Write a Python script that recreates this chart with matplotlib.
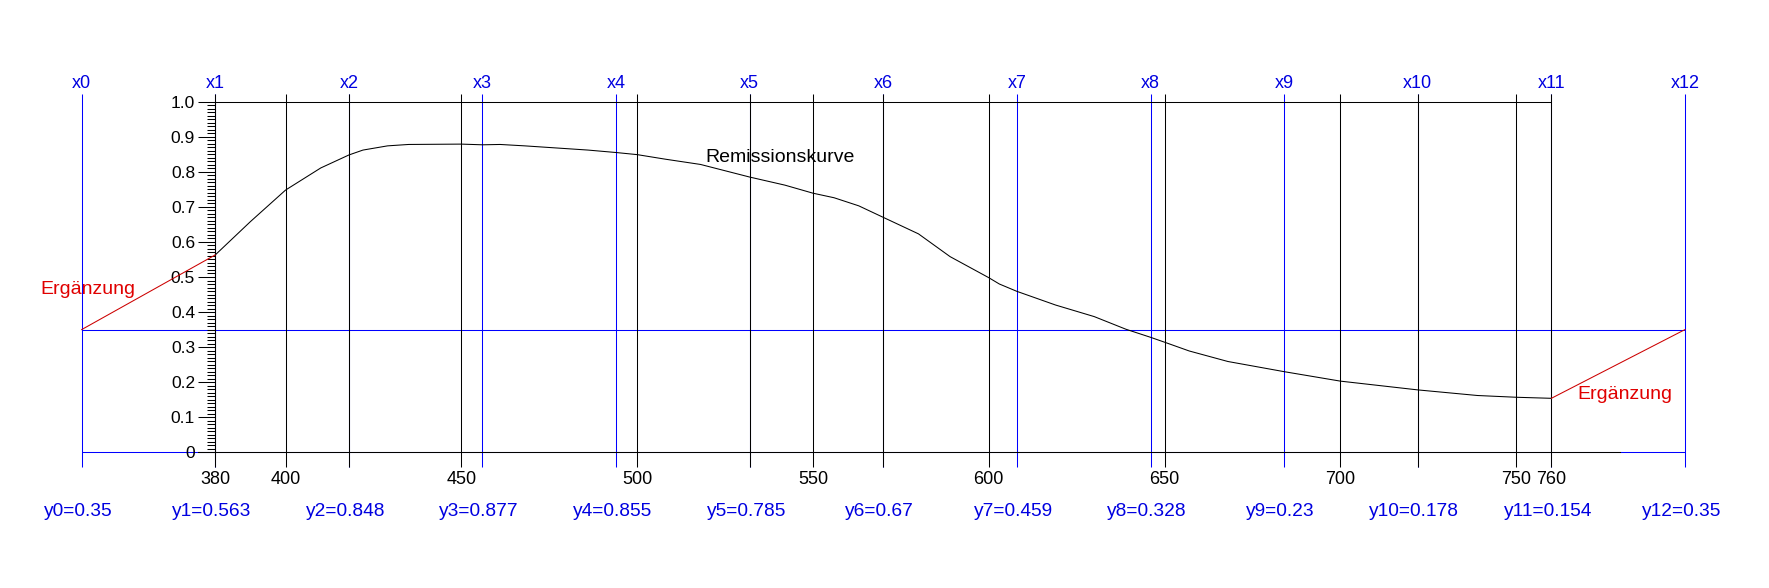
import matplotlib
matplotlib.use("Agg")
import matplotlib.pyplot as plt
from matplotlib.ticker import FixedLocator

plt.rcParams['font.family'] = ['Liberation Sans', 'DejaVu Sans']

# ---- data -------------------------------------------------------------
node_x = [342, 380, 418, 456, 494, 532, 570, 608, 646, 684, 722, 760, 798]
node_y = [0.35, 0.563, 0.848, 0.877, 0.855, 0.785, 0.67, 0.459, 0.328, 0.23,
          0.178, 0.154, 0.35]

curve_nm = [380, 390, 400, 410, 418, 422, 429, 435, 450, 456, 461, 468, 474,
            486, 494, 500, 508, 518, 532, 542, 550, 556, 563, 570, 580, 589,
            600, 603, 608, 619, 630, 639, 646, 650, 657, 668, 684, 700, 722,
            739, 750, 760]
curve_r = [0.563, 0.658, 0.748, 0.811, 0.848, 0.862, 0.874, 0.878, 0.879,
           0.877, 0.878, 0.874, 0.870, 0.862, 0.855, 0.849, 0.836, 0.821,
           0.785, 0.762, 0.739, 0.726, 0.703, 0.670, 0.623, 0.558, 0.498,
           0.480, 0.459, 0.420, 0.387, 0.351, 0.328, 0.314, 0.289, 0.259,
           0.230, 0.203, 0.178, 0.162, 0.157, 0.154]

black_grid_x = [380, 400, 418, 450, 500, 532, 550, 570, 600, 650, 700, 722,
                750, 760]
x_tick_vals = [380, 400, 450, 500, 550, 600, 650, 700, 750, 760]
y_major = [0, 0.1, 0.2, 0.3, 0.4, 0.5, 0.6, 0.7, 0.8, 0.9, 1.0]
y_major_labels = ['0', '0.1', '0.2', '0.3', '0.4', '0.5', '0.6', '0.7',
                  '0.8', '0.9', '1.0']
y_minor = [i / 100 for i in range(0, 101)]

# ---- figure -----------------------------------------------------------
BLUE = '#0000ff'
BLUE_T = '#0000e0'
RED_L = '#cc0000'
RED_T = '#e00000'
LW = 0.75

fig = plt.figure(figsize=(17.69, 5.88), dpi=100)
ax = fig.add_axes([0, 0, 1, 1])
ax.set_xlim(318.77, 821.9)
ax.set_ylim(-0.387, 1.290)
ax.patch.set_visible(False)

for s in ['top', 'right']:
    ax.spines[s].set_visible(False)
ax.spines['left'].set_position(('data', 380))
ax.spines['left'].set_bounds(0, 1)
ax.spines['left'].set_linewidth(LW)
ax.spines['bottom'].set_position(('data', 0))
ax.spines['bottom'].set_bounds(375.1, 779.5)
ax.spines['bottom'].set_linewidth(LW)
ax.spines['bottom'].set_zorder(4)

vy0, vy1 = -0.041, 1.022

# blue construction lines
ax.vlines(node_x, vy0, vy1, color=BLUE, lw=LW, zorder=1)
ax.hlines([0, node_y[0]], node_x[0], node_x[-1], color=BLUE, lw=LW, zorder=1)

# black grid lines
ax.vlines(black_grid_x, vy0, vy1, color='black', lw=LW, zorder=2)
ax.hlines(1.0, 380, 760, color='black', lw=LW, zorder=2)

# remission curve
ax.plot(curve_nm, curve_r, color='black', lw=LW, zorder=3)

# red extensions
ax.plot(node_x[:2], node_y[:2], color=RED_L, lw=LW, zorder=3)
ax.plot(node_x[-2:], node_y[-2:], color=RED_L, lw=LW, zorder=3)

# y axis ticks
ax.yaxis.set_major_locator(FixedLocator(y_major))
ax.set_yticklabels(y_major_labels)
ax.yaxis.set_minor_locator(FixedLocator(y_minor))
ax.tick_params(axis='y', which='major', length=12.2, width=LW,
               direction='out', labelsize=12.5, pad=2.4)
ax.tick_params(axis='y', which='minor', length=5.8, width=LW,
               direction='out')

# x axis labels
ax.set_xticks(x_tick_vals)
ax.set_xticklabels([str(v) for v in x_tick_vals])
ax.tick_params(axis='x', length=0, labelsize=13, pad=13.6)

# node labels
for i, (xv, yv) in enumerate(zip(node_x, node_y)):
    ax.text(xv, 1.038, f"x{i}", color=BLUE_T, fontsize=13,
            ha='center', va='baseline')
    ax.text(xv - 1, -0.181, f"y{i}={yv:g}", color=BLUE_T, fontsize=13.8,
            ha='center', va='baseline')

ax.text(540.6, 0.829, "Remissionskurve", color='black', fontsize=14,
        ha='center', va='baseline')
ax.text(343.9, 0.451, "Ergänzung", color=RED_T, fontsize=14,
        ha='center', va='baseline')
ax.text(781.0, 0.151, "Ergänzung", color=RED_T, fontsize=14,
        ha='center', va='baseline')

fig.savefig("out.png", dpi=100, facecolor='white')
